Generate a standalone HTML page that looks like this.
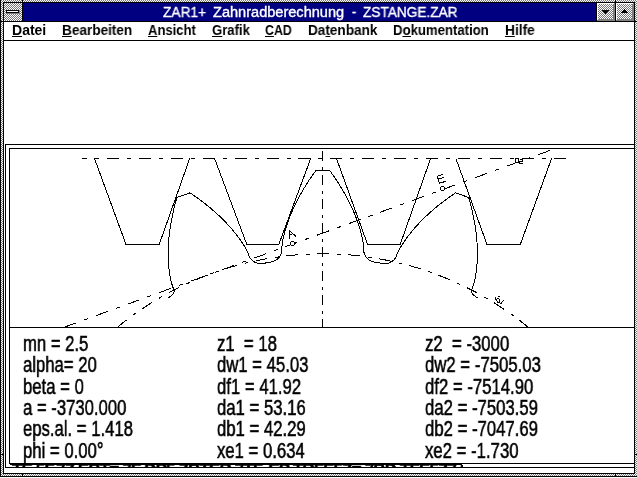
<!DOCTYPE html>
<html><head><meta charset="utf-8"><title>ZAR1+ Zahnradberechnung</title>
<style>
html,body{margin:0;padding:0;background:#fff;}
body{width:637px;height:478px;position:relative;overflow:hidden;font-family:"Liberation Sans",sans-serif;color:#000;}
.a{position:absolute;}
.m,.t,.tt{will-change:transform;}
.k{position:absolute;background:#000;}
.d{position:absolute;background:repeating-conic-gradient(#777 0 25%,#fff 0 50%) 0 0/2px 2px;}
.o{background-position:1px 0;}
.g{position:absolute;background:#808080;}
.w{position:absolute;background:#fff;}
#title{left:23px;top:3px;width:573px;height:18px;background:#000080;}
.tt{top:3px;height:18px;line-height:18px;font-size:14px;font-weight:normal;-webkit-text-stroke:0.35px #fff;color:#fff;white-space:nowrap;transform-origin:0 0;}
.m{position:absolute;top:21px;height:18px;line-height:18px;font-size:14px;font-weight:bold;white-space:nowrap;transform-origin:0 0;}
.m u{text-decoration:none;display:inline-block;position:relative;}
.m u:after{content:"";position:absolute;left:0;right:0;top:15px;height:1px;background:#000;}
.t{position:absolute;font-size:21.6px;line-height:21.35px;white-space:pre;transform-origin:0 0;-webkit-text-stroke:0.55px #000;}
</style></head><body>
<!-- outer border -->
<div class="d" style="left:0;top:0;width:637px;height:2px"></div>
<div class="d" style="left:0;top:0;width:3px;height:477px"></div>
<div class="d o" style="left:635px;top:0;width:2px;height:477px"></div>
<div class="d" style="left:0;top:474px;width:637px;height:2px"></div>
<div class="k" style="left:0;top:0;width:1px;height:477px"></div>
<div class="k" style="left:0;top:476px;width:637px;height:1px"></div>
<!-- notches -->
<div class="k" style="left:22px;top:0;width:1px;height:3px"></div>
<div class="k" style="left:615px;top:0;width:1px;height:3px"></div>
<div class="k" style="left:22px;top:473px;width:1px;height:4px"></div>
<div class="k" style="left:615px;top:473px;width:1px;height:4px"></div>
<div class="k" style="left:0;top:21px;width:4px;height:1px"></div>
<div class="k" style="left:634px;top:21px;width:3px;height:1px"></div>
<div class="k" style="left:0;top:454px;width:4px;height:1px"></div>
<div class="k" style="left:634px;top:454px;width:3px;height:1px"></div>
<!-- inner black rect -->
<div class="k" style="left:3px;top:2px;width:632px;height:472px"></div>
<div class="w" style="left:4px;top:3px;width:630px;height:470px"></div>
<!-- title bar -->
<div class="d o" style="left:4px;top:3px;width:18px;height:18px"></div>
<div class="g" style="left:7px;top:11px;width:13px;height:3px"></div>
<div class="k" style="left:6px;top:10px;width:13px;height:3px"></div>
<div class="w" style="left:7px;top:11px;width:11px;height:1px"></div>
<div class="k" style="left:22px;top:3px;width:1px;height:18px"></div>
<div class="a" id="title"></div>
<div class="a tt" style="left:162.8px;transform:scaleX(0.98)">ZAR1+</div>
<div class="a tt" style="left:212.8px;transform:scaleX(1.04)">Zahnradberechnung</div>
<div class="a tt" style="left:352px;transform:scaleX(0.9)">-</div>
<div class="a tt" style="left:362.8px;transform:scaleX(0.975)">ZSTANGE.ZAR</div>
<div class="k" style="left:596px;top:3px;width:1px;height:18px"></div>
<div class="k" style="left:615px;top:3px;width:1px;height:18px"></div>
<!-- button 1 -->
<div class="g" style="left:597px;top:3px;width:18px;height:18px"></div>
<div class="w" style="left:597px;top:3px;width:17px;height:17px"></div>
<div class="g" style="left:598px;top:4px;width:16px;height:16px"></div>
<div class="d" style="left:598px;top:4px;width:15px;height:15px"></div>
<!-- button 2 -->
<div class="g" style="left:616px;top:3px;width:18px;height:18px"></div>
<div class="w" style="left:616px;top:3px;width:17px;height:17px"></div>
<div class="g" style="left:617px;top:4px;width:16px;height:16px"></div>
<div class="d o" style="left:617px;top:4px;width:15px;height:15px"></div>
<svg class="a" style="left:597px;top:3px" width="37" height="18" shape-rendering="crispEdges"><path d="M5,7h7v1h-1v1h-1v1h-1v1h-1v-1h-1v-1h-1v-1h-1z M27,6h1v1h1v1h1v1h1v1h-7v-1h1v-1h1v-1h1z" fill="#000"/></svg>
<div class="k" style="left:4px;top:21px;width:630px;height:1px"></div>
<!-- menu -->
<div class="m" style="left:12.2px;transform:scaleX(1.000)"><u>D</u>atei</div>
<div class="m" style="left:62.0px;transform:scaleX(0.970)"><u>B</u>earbeiten</div>
<div class="m" style="left:148.4px;transform:scaleX(0.930)"><u>A</u>nsicht</div>
<div class="m" style="left:212.0px;transform:scaleX(0.935)"><u>G</u>rafik</div>
<div class="m" style="left:264.7px;transform:scaleX(0.880)"><u>C</u>AD</div>
<div class="m" style="left:308.0px;transform:scaleX(0.970)">Da<u>t</u>enbank</div>
<div class="m" style="left:393.1px;transform:scaleX(0.940)">D<u>o</u>kumentation</div>
<div class="m" style="left:504.6px;transform:scaleX(0.980)"><u>H</u>ilfe</div>
<div class="k" style="left:4px;top:40px;width:630px;height:1px"></div>
<!-- frames -->
<div class="a" style="left:5px;top:144px;width:640px;height:322px;border:1px solid #000;clip-path:inset(0 12px 0 0)"></div>
<div class="a" style="left:9px;top:148px;width:640px;height:314px;border:1px solid #000;clip-path:inset(0 16px 0 0)"></div>
<div class="k" style="left:9px;top:327px;width:625px;height:1px"></div>
<div class="a" style="left:10px;top:149px;width:624px;height:178px;overflow:hidden">
<svg id="dw" width="624" height="178" viewBox="10 149 624 178" shape-rendering="crispEdges" fill="none" stroke="#000" stroke-width="1">
<polyline points="94.5,158.5 126.0,244.5 159.2,244.5 189.7,158.5"/>
<polyline points="214.6,158.5 246.8,244.5 278.8,244.5 310.7,158.5"/>
<polyline points="336.5,158.5 367.6,244.5 400.2,244.5 430.6,158.5"/>
<polyline points="455.9,158.5 487.0,244.5 520.3,244.5 551.6,158.5"/>
<polyline points="168.0,298.0 170.2,296.5 171.9,295.1 173.1,293.8 173.9,292.4 174.2,291.2 174.0,290.0 172.7,286.8 171.7,283.4 170.8,279.9 170.1,276.4 169.5,272.8 169.0,269.2 168.7,265.5 168.4,261.7 168.3,258.0 168.2,254.1 168.3,250.3 168.4,246.4 168.6,242.4 168.9,238.5 169.3,234.5 169.8,230.5 170.4,226.4 171.1,222.4 171.9,218.3 172.7,214.2 173.6,210.0 174.6,205.9 175.7,201.7 176.9,197.5 190.0,192.8 193.2,195.0 196.4,197.2 199.4,199.4 202.5,201.7 205.4,204.0 208.3,206.3 211.2,208.7 213.9,211.1 216.7,213.5 219.3,216.0 221.9,218.5 224.4,221.0 226.8,223.5 229.2,226.1 231.5,228.7 233.7,231.3 235.8,234.0 237.9,236.6 239.8,239.3 241.7,242.1 243.5,244.8 245.2,247.6 246.8,250.4 248.3,253.2 248.3,253.2 249.0,255.7 250.1,257.9 251.7,259.9 253.6,261.5 255.8,262.7 258.2,263.4 260.7,263.6 263.3,263.4 271.2,262.0 273.6,261.3 275.9,260.3 277.9,258.7 279.6,256.9 280.8,254.7 281.6,252.4 282.0,249.9 281.8,247.3 281.8,247.3 282.2,244.2 282.7,241.0 283.3,237.8 284.1,234.6 284.9,231.4 285.9,228.2 286.9,225.0 288.0,221.7 289.2,218.5 290.4,215.3 291.8,212.1 293.2,208.9 294.7,205.6 296.2,202.4 297.9,199.2 299.6,196.0 301.4,192.8 303.2,189.6 305.2,186.4 307.2,183.2 309.2,180.0 311.4,176.9 313.6,173.7 315.8,170.6 329.8,170.6 332.0,173.7 334.2,176.9 336.4,180.0 338.4,183.2 340.4,186.4 342.4,189.6 344.2,192.8 346.0,196.0 347.7,199.2 349.4,202.4 350.9,205.6 352.4,208.9 353.8,212.1 355.2,215.3 356.4,218.5 357.6,221.7 358.7,225.0 359.7,228.2 360.7,231.4 361.5,234.6 362.3,237.8 362.9,241.0 363.4,244.2 363.8,247.3 363.8,247.3 363.6,249.9 364.0,252.4 364.8,254.7 366.0,256.9 367.7,258.7 369.7,260.3 372.0,261.3 374.4,262.0 382.3,263.4 384.9,263.6 387.4,263.4 389.8,262.7 392.0,261.5 393.9,259.9 395.5,257.9 396.6,255.7 397.3,253.2 397.3,253.2 398.8,250.4 400.4,247.6 402.1,244.8 403.9,242.1 405.8,239.3 407.7,236.6 409.8,234.0 411.9,231.3 414.1,228.7 416.4,226.1 418.8,223.5 421.2,221.0 423.7,218.5 426.3,216.0 428.9,213.5 431.7,211.1 434.4,208.7 437.3,206.3 440.2,204.0 443.1,201.7 446.2,199.4 449.2,197.2 452.4,195.0 455.6,192.8 468.7,197.5 469.9,201.7 471.0,205.9 472.0,210.0 472.9,214.2 473.7,218.3 474.5,222.4 475.2,226.4 475.8,230.5 476.3,234.5 476.7,238.5 477.0,242.4 477.2,246.4 477.3,250.3 477.4,254.1 477.3,258.0 477.2,261.7 476.9,265.5 476.6,269.2 476.1,272.8 475.5,276.4 474.8,279.9 473.9,283.4 472.9,286.8 471.6,290.0 471.4,291.2 471.7,292.4 472.5,293.8 473.7,295.1 475.4,296.5 477.6,298.0"/>
<path d="M82,158.5H87M95,158.5H99" />
<path d="M107,158.5H565.5" stroke-dasharray="12 8 4 7.9"/>
<path d="M322.5,151V327" stroke-dasharray="9.5 6 3 5.5"/>
<polyline points="117.7,327.0 122.0,323.5 126.4,320.1 130.8,316.8 135.3,313.5 139.9,310.4 144.5,307.3 149.2,304.3 153.9,301.3 158.7,298.5 163.5,295.7 168.3,293.0 173.2,290.4 178.2,287.9 183.2,285.5 188.2,283.1 193.3,280.9 198.4,278.7 203.5,276.6 208.7,274.6 213.9,272.7 219.2,270.9 224.4,269.1 229.7,267.5 235.1,265.9 240.4,264.5 245.8,263.1 251.2,261.9 256.6,260.7 262.1,259.6 267.5,258.6 273.0,257.7 278.5,256.9 284.0,256.2 289.5,255.6 295.1,255.0 300.6,254.6 306.2,254.3 311.7,254.0 317.2,253.9 322.8,253.8 328.4,253.9 333.9,254.0 339.4,254.3 345.0,254.6 350.5,255.0 356.1,255.6 361.6,256.2 367.1,256.9 372.6,257.7 378.1,258.6 383.5,259.6 389.0,260.7 394.4,261.9 399.8,263.1 405.2,264.5 410.5,265.9 415.9,267.5 421.2,269.1 426.4,270.9 431.7,272.7 436.9,274.6 442.1,276.6 447.2,278.7 452.3,280.9 457.4,283.1 462.4,285.5 467.4,287.9 472.4,290.4 477.3,293.0 482.1,295.7 486.9,298.5 491.7,301.3 496.4,304.3 501.1,307.3 505.7,310.4 510.3,313.5 514.8,316.8 519.2,320.1 523.6,323.5 527.9,327.0" stroke-dasharray="12 8 3.5 7.5" stroke-dashoffset="0.5"/>
<path d="M64.5,327.1L552.5,149.5" stroke-dasharray="12.6 8.4 4.2 8.4"/>
<path stroke="none" fill="#fff" d="M291,242h3v3h-3z"/><path stroke="none" fill="#000" d="M291,241h3v1h-3zM291,245h3v1h-3zM290,242h1v3h-1zM294,242h1v3h-1z"/>
<path stroke="none" fill="#fff" d="M441,187h3v3h-3z"/><path stroke="none" fill="#000" d="M441,186h3v1h-3zM441,190h3v1h-3zM440,187h1v3h-1zM444,187h1v3h-1z"/>
<path d="M289.5,238.5V230.5L295.8,236.3M289.5,234.9L293.2,233.5"/>
<path d="M442.7,174.5L437.3,176.4L439.5,183.3L445.7,181.3M438.6,179L443.8,177.4"/>
<path d="M515.5,158.5h2.5v4h-2.5zM519.5,159h3v2h-3v2h3" />
<path d="M495.5,297.5l2,5M495.5,300l2.5,-2l2,1.5l-0.5,3l-2,0.5M498,296.5l1.5,0.5M500.5,304l3,-3.5" />
</svg>
</div>
<div class="k" style="left:10px;top:464px;width:452px;height:1px"></div>
<div class="a" style="left:10px;top:465px;width:453px;height:2px;overflow:hidden"><div style="will-change:transform;position:absolute;left:2px;top:-5px;font-size:21.6px;line-height:21.35px;font-weight:bold;white-space:pre;letter-spacing:-1px;transform:scaleX(0.78);transform-origin:0 0;-webkit-text-stroke:0.6px #000">TE 5F.7Z EBT= 7F DP5 ZBTER 7TF. EP TRFE5Z= 7BD TFE5Z7 RP.EFT Z5B7 =DPTF EB5 7ZT FEP</div></div>
<!-- data -->
<div class="t" id="c1" style="left:23px;top:332.5px;transform:scaleX(0.773)">mn = 2.5
alpha= 20
beta = 0
a = -3730.000
eps.al. = 1.418
phi = 0.00°</div>
<div class="t" id="c2" style="left:217px;top:332.5px;transform:scaleX(0.773)">z1  = 18
dw1 = 45.03
df1 = 41.92
da1 = 53.16
db1 = 42.29
xe1 = 0.634</div>
<div class="t" id="c3" style="left:425px;top:332.5px;transform:scaleX(0.775)">z2  = -3000
dw2 = -7505.03
df2 = -7514.90
da2 = -7503.59
db2 = -7047.69
xe2 = -1.730</div>
</body></html>
